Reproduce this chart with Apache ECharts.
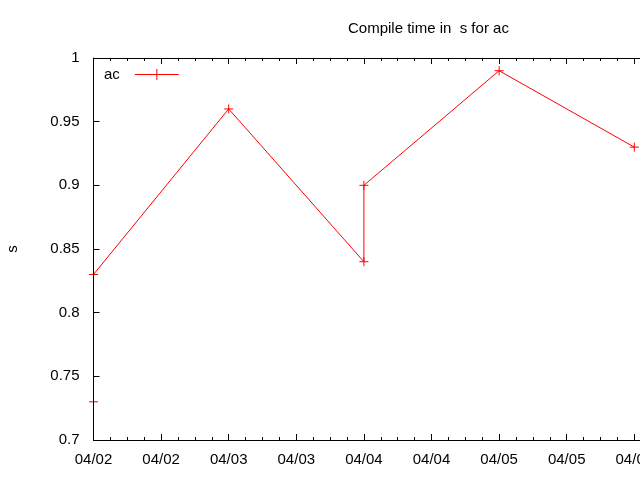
<!DOCTYPE html>
<html>
<head>
<meta charset="utf-8">
<script src="https://cdn.jsdelivr.net/npm/echarts@6/dist/echarts.min.js"></script>
<style>
  html, body { margin: 0; padding: 0; background: #fff; }
  #main { width: 640px; height: 480px; }
</style>
</head>
<body>
<div id="main"></div>
<script>
// build dates (month/day) and compile time in seconds
const dates = ['04/02', '04/02', '04/03', '04/04', '04/04', '04/05', '04/06']
const times = [0.73, 0.83, 0.96, 0.84, 0.90, 0.99, 0.93]
const seriesName = 'ac'
const year = 2024
const rangeStart = '04/02'
const rangeEnd = '04/07'

const HOUR = 3600 * 1000

function toTs(md) {
  let p = md.split('/')
  return new Date(year, parseInt(p[0]) - 1, parseInt(p[1])).getTime()
}

function pad(n) {
  return (n < 10 ? '0' : '') + n
}

// x is counted in hours from the start of the range, labels go back to dates
let t0 = toTs(rangeStart)
let hours = function (md) {
  return Math.round((toTs(md) - t0) / HOUR)
}
let points = dates.map(function (d, i) {
  return [hours(d), times[i]]
})

let plusSymbol = 'path://M0,5 L10,5 M5,0 L5,10'
let font = 'Liberation Sans, Arial, sans-serif'
let fs = 15

let xCommon = {
  type: 'value',
  min: 0,
  max: hours(rangeEnd),
  interval: 12,
  axisLine: { onZero: false, lineStyle: { color: '#000', width: 1 } },
  axisTick: { inside: true, length: 6, lineStyle: { color: '#000' } },
  minorTick: { show: true, splitNumber: 4, length: 3, lineStyle: { color: '#000' } },
  splitLine: { show: false },
  z: 3
}

let myChart = echarts.init(document.getElementById('main'))
let option = {
  animation: false,
  title: {
    text: 'Compile time in  s for ac',
    left: 343,
    top: 16,
    textStyle: { fontFamily: font, fontSize: fs, fontWeight: 'normal', color: '#000' }
  },
  legend: {
    data: [seriesName],
    left: 99,
    top: 62,
    align: 'right',
    itemWidth: 44,
    itemHeight: 14,
    lineStyle: { width: 1 },
    itemStyle: { borderWidth: 1 },
    textStyle: { fontFamily: font, fontSize: fs, color: '#000', padding: [0, 10, 0, 0] }
  },
  // half pixel so the y axis line sits exactly on the first points
  grid: {
    left: 93.5,
    right: -129.5,
    top: 58,
    bottom: 40,
    containLabel: false,
    outerBoundsMode: 'none'
  },
  xAxis: [Object.assign({}, xCommon, {
    position: 'bottom',
    axisLabel: {
      margin: 12,
      fontFamily: font,
      fontSize: fs,
      color: '#000',
      hideOverlap: false,
      formatter: function (v) {
        let d = new Date(t0 + v * HOUR)
        return pad(d.getMonth() + 1) + '/' + pad(d.getDate())
      }
    }
  }), Object.assign({}, xCommon, {
    position: 'top',
    axisLabel: { show: false }
  })],
  yAxis: {
    type: 'value',
    min: 0.7,
    max: 1,
    interval: 0.05,
    name: 's',
    nameLocation: 'middle',
    nameRotate: 90,
    nameGap: 73,
    nameTextStyle: { fontFamily: font, fontSize: fs, color: '#000' },
    axisLine: { show: true, onZero: false, lineStyle: { color: '#000', width: 1 } },
    axisTick: { show: true, inside: true, length: 6, lineStyle: { color: '#000' } },
    splitLine: { show: false },
    axisLabel: { margin: 14, fontFamily: font, fontSize: fs, color: '#000' },
    zlevel: 1,
    z: 3
  },
  series: [{
    name: seriesName,
    type: 'line',
    data: points,
    symbol: plusSymbol,
    symbolSize: 9,
    showAllSymbol: true,
    color: '#ff0000',
    lineStyle: { color: '#ff0000', width: 1 },
    itemStyle: { color: '#ff0000', borderColor: '#ff0000', borderWidth: 1 },
    z: 2
  }]
}
myChart.setOption(option)
</script>
</body>
</html>
